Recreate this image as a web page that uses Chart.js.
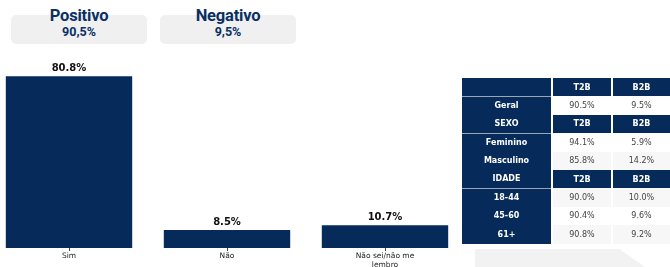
<!DOCTYPE html>
<html>
<head>
<meta charset="utf-8">
<script src="https://cdn.jsdelivr.net/npm/chart.js@4"></script>
<style>
  html, body { margin: 0; padding: 0; background: #fff; }
  body { width: 670px; height: 267px; position: relative; overflow: hidden; font-family: 'DejaVu Sans', sans-serif; }
  .summary { position: absolute; top: 15px; width: 136px; height: 29px; background: #f0f0f0; border-radius: 5px; }
  .summary__title { position: absolute; top: -9px; left: 0; right: 0; text-align: center; font: bold 16.5px Roboto, sans-serif; color: #0a2f63; letter-spacing: -0.2px; }
  .summary__value { position: absolute; top: 8.5px; left: 0; right: 0; text-align: center; font: bold 12.5px Roboto, sans-serif; color: #0a2f63; }
  #chart-wrap { position: absolute; left: -10px; top: 59px; width: 474px; height: 208px; }
  #table { position: absolute; left: 462px; top: 78px; border-collapse: collapse; font: 8px 'DejaVu Sans', sans-serif; }
  #table td { height: 18.4px; padding: 0; text-align: center; box-sizing: border-box; }
  #table .lbl { width: 90px; background: #062b5b; color: #fff; font-weight: bold; }
  #table .val { color: #444; border-left: 2px solid #fff; }
  #table .val.t2b { width: 60px; }
  #table .val.b2b { width: 58px; }
  #table tr.head td { background: #062b5b; color: #fff; font-weight: bold; }
  #table tr.head .lbl { border-bottom: 1px solid #9aa5b5; }
  #table tr.alt .val { background: #f7f7f7; }
  #table tr.plain .val { background: #fff; }
  .deco { position: absolute; left: 475px; top: 249px; width: 170px; height: 18px; background: #f2f2f2;
          clip-path: polygon(0 0, 85% 0, 100% 100%, 0 100%); }
</style>
</head>
<body>
<div class="summary" style="left:11px"><div class="summary__title" id="sum-0"></div><div class="summary__value" id="sumv-0"></div></div>
<div class="summary" style="left:160px"><div class="summary__title" id="sum-1"></div><div class="summary__value" id="sumv-1"></div></div>
<div id="chart-wrap"><canvas id="chart" width="474" height="208"></canvas></div>
<table id="table"></table>
<div class="deco"></div>
<script>
const categories = ['Sim', 'Não', ['Não sei/não me', 'lembro']];
const values = [80.8, 8.5, 10.7];

const summaryLabels = ['Positivo', 'Negativo'];
const summaryValues = ['90,5%', '9,5%'];

const sectionHeaders = ['', 'SEXO', 'IDADE'];
const columnHeaders = ['T2B', 'B2B'];
const sectionRows = [['Geral'], ['Feminino', 'Masculino'], ['18-44', '45-60', '61+']];
const t2bValues = [['90.5%'], ['94.1%', '85.8%'], ['90.0%', '90.4%', '90.8%']];
const b2bValues = [['9.5%'], ['5.9%', '14.2%'], ['10.0%', '9.6%', '9.2%']];

const navy = '#062b5b';

summaryLabels.forEach((label, i) => {
  document.getElementById(`sum-${i}`).textContent = label;
  document.getElementById(`sumv-${i}`).textContent = summaryValues[i];
});

const table = document.getElementById('table');
const shading = [['plain'], ['plain', 'alt'], ['alt', 'plain', 'alt']];
sectionHeaders.forEach((header, s) => {
  const head = document.createElement('tr');
  head.className = 'head';
  head.innerHTML = `<td class="lbl">${header}</td><td class="val t2b">${columnHeaders[0]}</td><td class="val b2b">${columnHeaders[1]}</td>`;
  table.appendChild(head);
  sectionRows[s].forEach((label, r) => {
    const row = document.createElement('tr');
    row.className = shading[s][r];
    row.innerHTML = `<td class="lbl">${label}</td><td class="val t2b">${t2bValues[s][r]}</td><td class="val b2b">${b2bValues[s][r]}</td>`;
    table.appendChild(row);
  });
});

const valueLabels = {
  id: 'valueLabels',
  afterDatasetsDraw(chart) {
    const { ctx } = chart;
    const meta = chart.getDatasetMeta(0);
    ctx.save();
    ctx.font = 'bold 10px "DejaVu Sans"';
    ctx.fillStyle = '#111';
    ctx.textAlign = 'center';
    ctx.textBaseline = 'bottom';
    meta.data.forEach((bar, i) => {
      ctx.fillText(`${values[i].toFixed(1)}%`, bar.x, bar.y - 3);
    });
    ctx.restore();
  },
};

new Chart(document.getElementById('chart'), {
  type: 'bar',
  data: {
    labels: categories,
    datasets: [
      {
        data: values,
        backgroundColor: navy,
        barPercentage: 0.8,
        categoryPercentage: 1,
      },
    ],
  },
  options: {
    responsive: false,
    animation: false,
    layout: { padding: 0 },
    plugins: { legend: { display: false }, tooltip: { enabled: false } },
    scales: {
      x: {
        grid: { offset: false, drawOnChartArea: false, drawTicks: true, tickLength: 3, color: '#444' },
        border: { display: false },
        ticks: { color: '#222', font: { size: 7.5, family: 'DejaVu Sans' }, padding: 1, maxRotation: 0 },
        afterFit: (scale) => { scale.height = 19; },
      },
      y: { display: false, min: 0, max: 88.88 },
    },
  },
  plugins: [valueLabels],
});
</script>
</body>
</html>
